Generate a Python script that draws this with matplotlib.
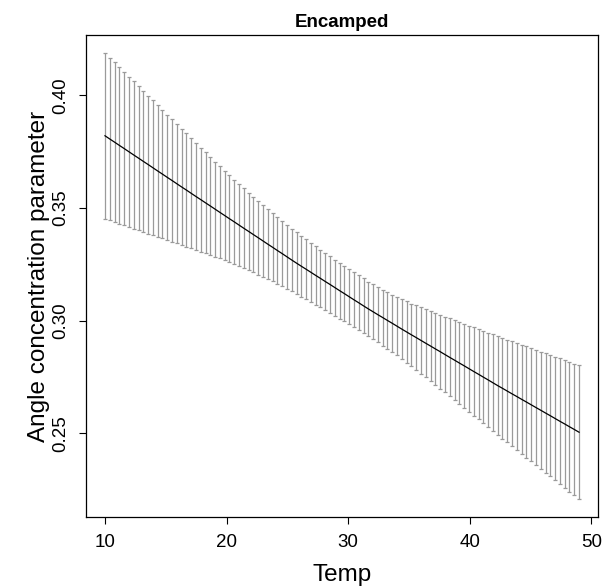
import matplotlib
matplotlib.use("Agg")
import matplotlib.pyplot as plt

plt.rcParams['font.family'] = ['Liberation Sans', 'DejaVu Sans']

# temperature grid (100 points, 10 to 49)
temp = [10.00, 10.39, 10.79, 11.18, 11.58, 11.97, 12.36, 12.76, 13.15, 13.55,
        13.94, 14.33, 14.73, 15.12, 15.52, 15.91, 16.30, 16.70, 17.09, 17.48,
        17.88, 18.27, 18.67, 19.06, 19.45, 19.85, 20.24, 20.64, 21.03, 21.42,
        21.82, 22.21, 22.61, 23.00, 23.39, 23.79, 24.18, 24.58, 24.97, 25.36,
        25.76, 26.15, 26.55, 26.94, 27.33, 27.73, 28.12, 28.52, 28.91, 29.30,
        29.70, 30.09, 30.48, 30.88, 31.27, 31.67, 32.06, 32.45, 32.85, 33.24,
        33.64, 34.03, 34.42, 34.82, 35.21, 35.61, 36.00, 36.39, 36.79, 37.18,
        37.58, 37.97, 38.36, 38.76, 39.15, 39.55, 39.94, 40.33, 40.73, 41.12,
        41.52, 41.91, 42.30, 42.70, 43.09, 43.48, 43.88, 44.27, 44.67, 45.06,
        45.45, 45.85, 46.24, 46.64, 47.03, 47.42, 47.82, 48.21, 48.61, 49.00]

# fitted angle concentration parameter
kappa = [0.38210, 0.38068, 0.37926, 0.37784, 0.37642, 0.37500, 0.37359, 0.37217, 0.37075, 0.36933,
         0.36791, 0.36649, 0.36507, 0.36365, 0.36223, 0.36081, 0.35940, 0.35799, 0.35657, 0.35516,
         0.35375, 0.35234, 0.35093, 0.34952, 0.34811, 0.34669, 0.34528, 0.34387, 0.34246, 0.34105,
         0.33964, 0.33824, 0.33683, 0.33542, 0.33401, 0.33260, 0.33119, 0.32979, 0.32838, 0.32697,
         0.32556, 0.32421, 0.32285, 0.32150, 0.32014, 0.31879, 0.31743, 0.31608, 0.31473, 0.31337,
         0.31202, 0.31066, 0.30931, 0.30796, 0.30660, 0.30525, 0.30397, 0.30269, 0.30141, 0.30013,
         0.29885, 0.29757, 0.29629, 0.29501, 0.29376, 0.29251, 0.29126, 0.29001, 0.28876, 0.28751,
         0.28626, 0.28500, 0.28375, 0.28250, 0.28125, 0.28000, 0.27875, 0.27750, 0.27625, 0.27500,
         0.27375, 0.27249, 0.27124, 0.27002, 0.26880, 0.26759, 0.26637, 0.26515, 0.26393, 0.26271,
         0.26150, 0.26028, 0.25906, 0.25784, 0.25662, 0.25540, 0.25419, 0.25297, 0.25175, 0.25053]

# half width of the interval
half_width = [0.03680, 0.03611, 0.03542, 0.03474, 0.03405, 0.03336, 0.03267, 0.03198, 0.03130, 0.03061,
              0.02992, 0.02923, 0.02854, 0.02786, 0.02717, 0.02648, 0.02579, 0.02512, 0.02445, 0.02378,
              0.02311, 0.02244, 0.02177, 0.02110, 0.02043, 0.01985, 0.01927, 0.01869, 0.01811, 0.01767,
              0.01723, 0.01679, 0.01635, 0.01591, 0.01547, 0.01517, 0.01487, 0.01457, 0.01427, 0.01397,
              0.01367, 0.01349, 0.01331, 0.01313, 0.01295, 0.01277, 0.01259, 0.01252, 0.01245, 0.01238,
              0.01231, 0.01224, 0.01217, 0.01217, 0.01217, 0.01217, 0.01217, 0.01229, 0.01241, 0.01253,
              0.01265, 0.01295, 0.01325, 0.01355, 0.01385, 0.01427, 0.01469, 0.01511, 0.01553, 0.01595,
              0.01637, 0.01683, 0.01729, 0.01775, 0.01821, 0.01867, 0.01913, 0.01959, 0.02005, 0.02051,
              0.02097, 0.02143, 0.02189, 0.02235, 0.02281, 0.02327, 0.02373, 0.02419, 0.02465, 0.02511,
              0.02557, 0.02603, 0.02649, 0.02695, 0.02741, 0.02787, 0.02833, 0.02879, 0.02925, 0.02971]

xticks = [10, 20, 30, 40, 50]
yticks = [0.25, 0.30, 0.35, 0.40]
ytick_labels = ['0.25', '0.30', '0.35', '0.40']

fig = plt.figure(figsize=(6.04, 5.88), dpi=100)
ax = fig.add_axes([0.1424, 0.1207, 0.8477, 0.8198])

ax.errorbar(temp, kappa, yerr=half_width, fmt='none', ecolor='#9a9a9a',
            elinewidth=0.9, capsize=1.6, capthick=0.9)
ax.plot(temp, kappa, color='black', lw=0.9)

ax.margins(x=0.04, y=0.04)
ax.set_xticks(xticks)
ax.set_yticks(yticks)
ax.set_yticklabels(ytick_labels, rotation=90, va='center')
ax.tick_params(direction='out', length=5, width=0.8, labelsize=13.5, color='black')
ax.tick_params(axis='x', pad=7)
ax.tick_params(axis='y', pad=7)
for s in ax.spines.values():
    s.set_linewidth(0.9)

ax.set_title('Encamped', fontsize=13.5, fontweight='bold', pad=6)
ax.set_xlabel('Temp', fontsize=17.5)
ax.set_ylabel('Angle concentration parameter', fontsize=17.5)
ax.xaxis.set_label_coords(0.5, -0.12)
ax.yaxis.set_label_coords(-0.092, 0.5)
ax.xaxis.label.set_va('center')
ax.yaxis.label.set_va('center')

fig.savefig('out.png', dpi=100)
